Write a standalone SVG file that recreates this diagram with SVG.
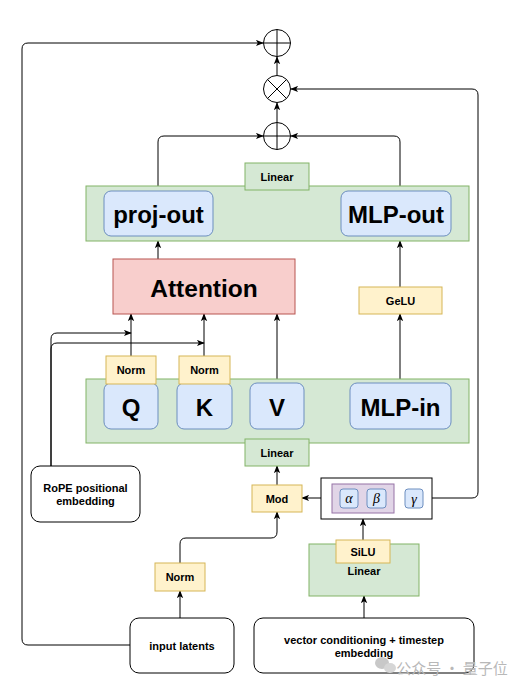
<svg xmlns="http://www.w3.org/2000/svg" width="526" height="688" viewBox="0 0 526 688">
<defs>
<marker id="arr" viewBox="0 0 10 8" refX="9" refY="4" markerWidth="8" markerHeight="7" markerUnits="userSpaceOnUse" orient="auto">
<path d="M0,0 L10,4 L0,8 L2.5,4 z" fill="#000"/>
</marker>
<style>
text{font-family:"Liberation Sans",Arial,sans-serif;font-weight:bold;fill:#000;text-anchor:middle;dominant-baseline:central}
.g{fill:#d5e8d4;stroke:#82b366;stroke-width:1}
.b{fill:#dae8fc;stroke:#6c8ebf;stroke-width:1}
.y{fill:#fff2cc;stroke:#d6b656;stroke-width:1}
.r{fill:#f8cecc;stroke:#b85450;stroke-width:1}
.p{fill:#e1d5e7;stroke:#9673a6;stroke-width:1}
.w{fill:#fff;stroke:#000;stroke-width:1}
.op{fill:#fff;stroke:#000;stroke-width:1}
.c{fill:none;stroke:#000;stroke-width:1;marker-end:url(#arr)}
.l{fill:none;stroke:#000;stroke-width:1}
.big{font-size:24px}
.sm{font-size:11px}
.gr{font-family:"Liberation Serif",serif;font-style:italic;font-weight:normal;font-size:14px}
</style>
</defs>
<rect width="526" height="688" fill="#fff"/>

<g id="connectors">
<path class="c" d="M130,645 H28 Q22,645 22,639 V49 Q22,43 28,43 H263"/>
<path class="c" d="M277,75 V57"/>
<path class="c" d="M277,122 V103"/>
<path class="c" d="M158,186 V142 Q158,136 164,136 H263"/>
<path class="c" d="M400,186 V142 Q400,136 394,136 H291"/>
<path class="c" d="M423,498 H472 Q478,498 478,492 V95 Q478,89 472,89 H291"/>
<path class="c" d="M158,259 V241"/>
<path class="c" d="M400,287 V241"/>
<path class="c" d="M131,356 V314"/>
<path class="c" d="M204,356 V314"/>
<path class="c" d="M277,379 V314"/>
<path class="c" d="M400,379 V314"/>
<path class="c" d="M51,466 V339 Q51,333 57,333 H131"/>
<path class="c" d="M51,466 V349 Q51,343 57,343 H204"/>
<path class="c" d="M277,485 V466"/>
<path class="c" d="M332,498 H302"/>
<path class="c" d="M363,540 V519"/>
<path class="c" d="M364,618 V596"/>
<path class="c" d="M180,618 V591"/>
<path class="c" d="M180,563 V544 Q180,538 186,538 H271 Q277,538 277,532 V512"/>
</g>

<g id="plus-top">
<circle class="op" cx="277" cy="43" r="13.5"/>
<path class="l" d="M263.5,43 H290.5 M277,29.5 V56.5"/>
</g>
<g id="times">
<circle class="op" cx="277" cy="89" r="13.5"/>
<path class="l" d="M267.5,79.5 L286.5,98.5 M286.5,79.5 L267.5,98.5"/>
</g>
<g id="plus-mid">
<circle class="op" cx="277" cy="136" r="13.5"/>
<path class="l" d="M263.5,136 H290.5 M277,122.5 V149.5"/>
</g>

<g id="out-block">
<rect class="g" x="86" y="186" width="383" height="55"/>
<rect class="g" x="245" y="163" width="64" height="27"/>
<text class="sm" x="277" y="177">Linear</text>
<rect class="b" x="104" y="191" width="109" height="45" rx="7"/>
<text class="big" x="158.5" y="214">proj-out</text>
<rect class="b" x="341" y="191" width="110" height="45" rx="7"/>
<text class="big" x="396" y="214">MLP-out</text>
</g>

<g id="attention">
<rect class="r" x="113" y="259" width="182" height="55"/>
<text x="204" y="288" style="font-size:24.5px">Attention</text>
</g>

<g id="gelu">
<rect class="y" x="359" y="287" width="83" height="27"/>
<text class="sm" x="400.5" y="301">GeLU</text>
</g>

<g id="in-block">
<rect class="g" x="86" y="379" width="383" height="64"/>
<rect class="b" x="104" y="383" width="54" height="46" rx="7"/>
<text class="big" x="131" y="407">Q</text>
<rect class="b" x="177" y="383" width="55" height="46" rx="7"/>
<text class="big" x="204.5" y="407">K</text>
<rect class="b" x="250" y="383" width="54" height="46" rx="7"/>
<text class="big" x="277" y="407">V</text>
<rect class="b" x="350" y="383" width="101" height="46" rx="7"/>
<text class="big" x="400.5" y="407">MLP-in</text>
<rect class="g" x="245" y="439" width="64" height="27"/>
<text class="sm" x="277" y="453">Linear</text>
</g>

<g id="norm-q">
<rect class="y" x="106" y="356" width="50" height="28"/>
<text class="sm" x="131" y="370">Norm</text>
</g>
<g id="norm-k">
<rect class="y" x="179" y="356" width="51" height="28"/>
<text class="sm" x="204.5" y="370">Norm</text>
</g>

<g id="rope">
<rect class="w" x="31" y="466" width="109" height="56" rx="9"/>
<text class="sm" x="85.5" y="488">RoPE positional</text>
<text class="sm" x="85.5" y="501">embedding</text>
</g>

<g id="mod">
<rect class="y" x="252" y="485" width="50" height="27"/>
<text class="sm" x="277" y="498.5">Mod</text>
</g>

<g id="params">
<rect class="w" x="321" y="478" width="111" height="41"/>
<rect class="p" x="332" y="484" width="62" height="29"/>
<rect class="b" x="340" y="489" width="18" height="19" rx="3"/>
<text class="gr" x="349" y="498">α</text>
<rect class="b" x="367" y="489" width="19" height="19" rx="3"/>
<text class="gr" x="376.5" y="498">β</text>
<rect class="b" x="405" y="489" width="18" height="19" rx="3"/>
<text class="gr" x="414" y="499">γ</text>
</g>

<g id="silu-linear">
<rect class="g" x="309" y="544" width="110" height="52"/>
<rect class="y" x="336" y="540" width="54" height="23"/>
<text class="sm" x="363" y="552">SiLU</text>
<text class="sm" x="364" y="571">Linear</text>
</g>

<g id="norm-in">
<rect class="y" x="155" y="563" width="50" height="28"/>
<text class="sm" x="180" y="577">Norm</text>
</g>

<g id="input-latents">
<rect class="w" x="130" y="618" width="104" height="55" rx="9"/>
<text class="sm" x="182" y="646">input latents</text>
</g>

<g id="vector-cond">
<rect class="w" x="254" y="618" width="220" height="55" rx="9"/>
<text class="sm" x="364" y="640">vector conditioning + timestep</text>
<text class="sm" x="364" y="653">embedding</text>
</g>

<g id="watermark">
<ellipse cx="382" cy="663" rx="7" ry="6" fill="#c8c8c8"/>
<ellipse cx="390" cy="668" rx="6" ry="5" fill="#d6d6d6"/>
<text x="452" y="667" style="font-family:'Noto Sans CJK SC','Liberation Sans',sans-serif;font-weight:normal;font-size:15px;fill:#b8b8b8">公众号 · 量子位</text>
</g>
</svg>
